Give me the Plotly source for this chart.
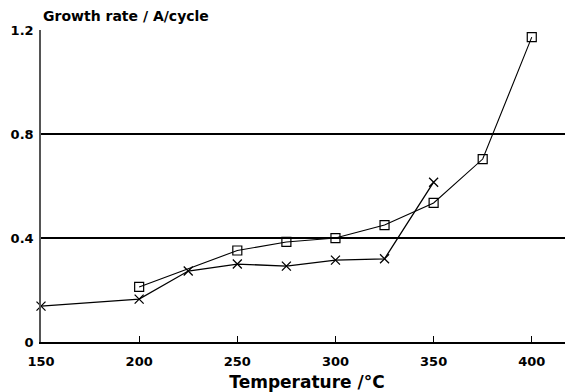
import plotly.graph_objects as go

temp_sq = [200, 250, 275, 300, 325, 350, 375, 400]
rate_sq = [0.212, 0.352, 0.385, 0.400, 0.450, 0.535, 0.704, 1.173]

temp_x = [150, 200, 225, 250, 275, 300, 325, 350]
rate_x = [0.138, 0.165, 0.273, 0.300, 0.292, 0.315, 0.320, 0.615]

x_ticks = [150, 200, 250, 300, 350, 400]
y_ticks = [0, 0.4, 0.8, 1.2]
y_ticklabels = ["0", "0.4", "0.8", "1.2"]

FONT = "DejaVu Sans"

fig = go.Figure()
fig.add_trace(go.Scatter(
    x=temp_x, y=rate_x, mode="lines+markers",
    line=dict(color="black", width=1.3),
    marker=dict(symbol="x-thin", size=9, line=dict(color="black", width=1.3)),
    showlegend=False, cliponaxis=False))
fig.add_trace(go.Scatter(
    x=temp_sq, y=rate_sq, mode="lines+markers",
    line=dict(color="black", width=1.1),
    marker=dict(symbol="square-open", size=9, color="black", line=dict(width=1.2)),
    showlegend=False, cliponaxis=False))

tickfont = dict(family=FONT, size=13, color="black", weight="bold")
fig.update_xaxes(
    range=[150, 421], tickvals=x_ticks, ticktext=[str(v) for v in x_ticks],
    showline=True, linecolor="black", linewidth=1.5,
    ticks="inside", ticklen=6, tickwidth=1, tickcolor="black",
    showgrid=False, zeroline=False, tickfont=tickfont, automargin=False,
    ticklabelstandoff=7,
    title=dict(text="Temperature /°C", font=dict(family=FONT, size=17, color="black", weight="bold"), standoff=20))
fig.update_yaxes(
    range=[0, 1.2005], tickvals=y_ticks, ticktext=y_ticklabels,
    showline=True, linecolor="#555555", linewidth=1.5,
    ticks="", showgrid=True, gridcolor="black", gridwidth=1.8,
    zeroline=False, tickfont=tickfont, automargin=False, ticklabelstandoff=3)
fig.add_annotation(
    text="Growth rate / A/cycle", xref="paper", yref="paper",
    x=0, y=1, xshift=0, yshift=14, xanchor="left", yanchor="middle",
    showarrow=False, font=dict(family=FONT, size=14, color="black", weight="bold"))
fig.update_layout(
    width=565, height=384, margin=dict(l=33, r=0, t=22, b=50),
    paper_bgcolor="white", plot_bgcolor="white")
fig.write_html("out.html")
